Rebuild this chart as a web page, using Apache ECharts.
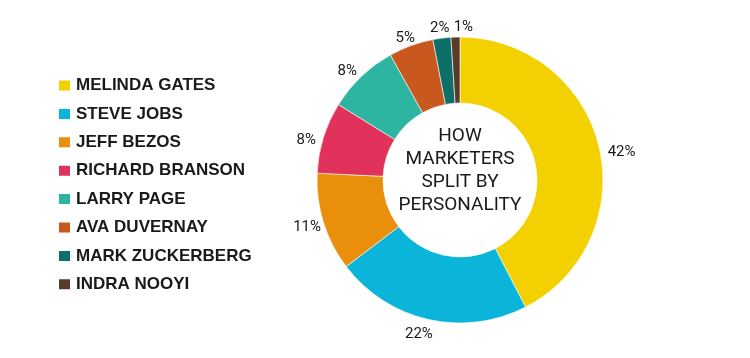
<!DOCTYPE html>
<html><head><meta charset="utf-8">
<script src="https://cdn.jsdelivr.net/npm/echarts@6/dist/echarts.min.js"></script>
<style>html,body{margin:0;padding:0;background:#fff}#c{width:750px;height:358px}</style>
</head><body><div id="c"></div>
<script>
const categories = ["MELINDA GATES","STEVE JOBS","JEFF BEZOS","RICHARD BRANSON","LARRY PAGE","AVA DUVERNAY","MARK ZUCKERBERG","INDRA NOOYI"];
const values = [42,22,11,8,8,5,2,1];
const colors = ["#f3d100","#0bb5d9","#e98f0c","#e0325a","#2db5a2","#c8581d","#0d6f67","#5a3b2a"];
const centerTitle = "HOW\nMARKETERS\nSPLIT BY\nPERSONALITY";

// small label nudges to match the reference's label placement
const labelNudge = [[-5,9],[9,3],[11,1],[6,6],[6,3],[10,4],[11,2],[20,2]];

const chart = echarts.init(document.getElementById('c'));
chart.setOption({
  animation:false,
  color: colors,
  title:{
    text:centerTitle, left:455, top:120, textAlign:'center',
    textStyle:{fontFamily:'Roboto', fontWeight:'normal', fontSize:19, lineHeight:23, color:'#1a1a1a'}
  },
  legend:{
    orient:'vertical', left:52, top:72, itemWidth:13, itemHeight:12, itemGap:11.4,
    icon:'rect',
    textStyle:{fontFamily:'Liberation Sans', fontWeight:'bold', fontSize:17, lineHeight:16, color:'#1a1a1a'},
    data: categories
  },
  series:[{
    type:'pie', center:[460,180], radius:[77,143], startAngle:90, clockwise:true,
    avoidLabelOverlap:false,
    labelLayout:{hideOverlap:false},
    itemStyle:{borderColor:'#fff', borderWidth:0.6},
    label:{show:true, position:'outside', formatter:'{c}%', fontFamily:'Roboto', fontSize:15, color:'#1a1a1a', distanceToLabelLine:2},
    labelLine:{show:false, length:12, length2:0},
    data: categories.map((n,i)=>({name:n, value:values[i], label:{offset:labelNudge[i]}}))
  }]
});
</script></body></html>
